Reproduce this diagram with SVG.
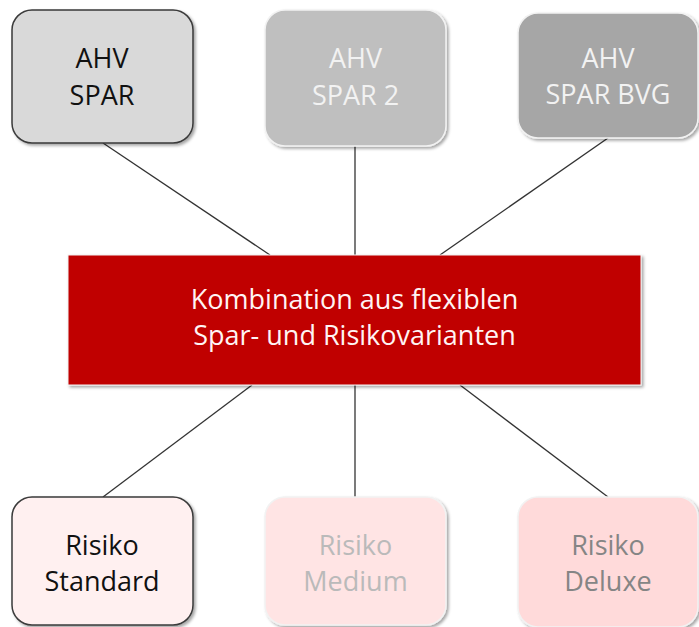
<svg xmlns="http://www.w3.org/2000/svg" width="699" height="627" viewBox="0 0 699 627">
<defs>
<filter id="sh" x="-10%" y="-10%" width="125%" height="125%">
<feDropShadow dx="2" dy="2" stdDeviation="1.8" flood-color="#000" flood-opacity="0.35"/>
</filter>
<style>
.t{font-family:"Open Sans","Liberation Sans",sans-serif;font-size:27px;text-anchor:middle}
.c{font-family:"Open Sans","Liberation Sans",sans-serif;font-size:27px;text-anchor:middle;fill:#fff4f4}
.ln{stroke:#333;stroke-width:1.3;fill:none}
</style>
</defs>
<rect width="699" height="627" fill="#fff"/>
<g id="connectors">
<line class="ln" x1="103" y1="143" x2="270" y2="255"/>
<line class="ln" x1="355" y1="146" x2="355" y2="255"/>
<line class="ln" x1="608" y1="138" x2="440" y2="255"/>
<line class="ln" x1="252" y1="385" x2="103" y2="497"/>
<line class="ln" x1="355" y1="385" x2="355" y2="497"/>
<line class="ln" x1="460" y1="385" x2="608" y2="497"/>
</g>
<g id="ahv-spar">
<rect x="12" y="10" width="181" height="133" rx="20" fill="#d9d9d9" stroke="#3a3a3a" stroke-width="1.5" filter="url(#sh)"/>
<text class="t" x="102" y="68" fill="#111">AHV</text>
<text class="t" x="102" y="105" fill="#111">SPAR</text>
</g>
<g id="ahv-spar-2">
<rect x="265" y="10" width="181" height="136" rx="20" fill="#bfbfbf" stroke="#f2f2f2" stroke-width="1.5" filter="url(#sh)"/>
<text class="t" x="355.5" y="68" fill="#f2f2f2">AHV</text>
<text class="t" x="355.5" y="105" fill="#f2f2f2">SPAR 2</text>
</g>
<g id="ahv-spar-bvg">
<rect x="518" y="13" width="180" height="125" rx="20" fill="#a6a6a6" stroke="#f2f2f2" stroke-width="1.5" filter="url(#sh)"/>
<text class="t" x="608" y="68" fill="#f2f2f2">AHV</text>
<text class="t" x="608" y="104" fill="#f2f2f2">SPAR BVG</text>
</g>
<g id="center">
<rect x="68" y="255" width="573" height="130" fill="#c00000" stroke="#f2f2f2" stroke-width="1" filter="url(#sh)"/>
<text class="c" x="354.5" y="309">Kombination aus flexiblen</text>
<text class="c" x="354.5" y="345">Spar- und Risikovarianten</text>
</g>
<g id="risiko-standard">
<rect x="12" y="497" width="181" height="128" rx="20" fill="#fff0f0" stroke="#3a3a3a" stroke-width="1.5" filter="url(#sh)"/>
<text class="t" x="102" y="555" fill="#111">Risiko</text>
<text class="t" x="102" y="591" fill="#111">Standard</text>
</g>
<g id="risiko-medium">
<rect x="265" y="497" width="181" height="128" rx="20" fill="#ffe4e4" stroke="#f2f2f2" stroke-width="1.5" filter="url(#sh)"/>
<text class="t" x="355.5" y="555" fill="#bababa">Risiko</text>
<text class="t" x="355.5" y="591" fill="#bababa">Medium</text>
</g>
<g id="risiko-deluxe">
<rect x="518" y="497" width="180" height="130" rx="20" fill="#ffdada" stroke="#f2f2f2" stroke-width="1.5" filter="url(#sh)"/>
<text class="t" x="608" y="555" fill="#858585">Risiko</text>
<text class="t" x="608" y="591" fill="#858585">Deluxe</text>
</g>
</svg>
